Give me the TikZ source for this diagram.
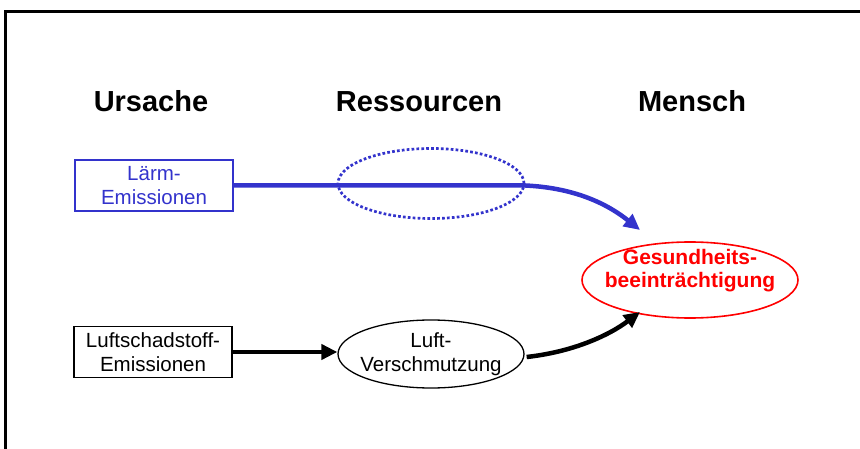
\documentclass[tikz,border=0pt]{standalone}
\usepackage{fontspec}
\setmainfont{Liberation Sans}
\usetikzlibrary{shapes.geometric,arrows.meta}
\definecolor{Blau}{rgb}{0.2,0.2,0.8}
\definecolor{Rot}{rgb}{1,0,0}
\newcommand{\drawheading}[3]{% Parameters: name, x, label
  \node[heading] (#1) at (#2,112) {#3};
}
\newcommand{\drawframe}[2]{ % Parameters: left edge, top edge
  \draw[line width=3pt] (#1,449) -- (#1,#2) -- (860,#2);
}

\begin{document}
\begin{tikzpicture}[x=1pt,y=-1pt,
    heading/.style={anchor=base,font=\fontsize{29}{31}\selectfont\bfseries},
    cause/.style={draw,line width=1.3pt,minimum width=158pt,minimum height=51pt,
      inner sep=0pt,align=center,font=\fontsize{20.5}{24}\selectfont},
    resource/.style={ellipse,inner sep=0pt,minimum width=186pt,minimum height=70pt},
    textlines/.style={align=center,font=\fontsize{20.5}{24}\selectfont},
    thickarrow/.style={line width=4.5pt,-{Triangle[length=16pt,width=15pt]}}]
    \useasboundingbox (0,0) rectangle (860,449);
    \drawframe{5.8}{11.5}
    \drawheading{ursache}{151}{Ursache}
    \drawheading{ressourcen}{419}{Ressourcen}
    \drawheading{mensch}{692}{Mensch}
    % causes
    \node[cause,draw=Blau,text=Blau] (laerm) at (154,185.5) {L\"arm-\\Emissionen};
    \node[cause] (luft) at (153,352) {Luftschadstoff-\\Emissionen};
    % resources
    \node[resource,draw=Blau,line width=2.7pt,dash pattern=on 2.7pt off 2.2pt] (res) at (431,183.5) {};
    \node[resource,draw,line width=1.3pt,minimum height=68pt,
      label={[textlines]center:Luft-\\Verschmutzung}] (verschm) at (431,354) {};
    % human
    \node[ellipse,draw=Rot,line width=1.6pt,inner sep=0pt,minimum width=216pt,minimum height=76pt,
      label={[textlines,text=Rot,font=\fontsize{21}{23}\selectfont\bfseries,yshift=9pt]center:Gesundheits-\\beeintr\"achtigung}] (gesund) at (690,280) {};
    \coordinate (tipblue) at (640,230);
    \coordinate (tipblack) at (640,312);
    % arrows
    \draw[thickarrow,Blau] (laerm.east) -- (laerm.east -| res.east)
      .. controls (578,188) and (610,206) .. (tipblue);
    \draw[thickarrow] (luft.east) -- (luft.east -| verschm.west);
    \draw[thickarrow] (verschm.east) ++(2,3) .. controls (572,352) and (608,336) .. (tipblack);
  \end{tikzpicture}
\end{document}
